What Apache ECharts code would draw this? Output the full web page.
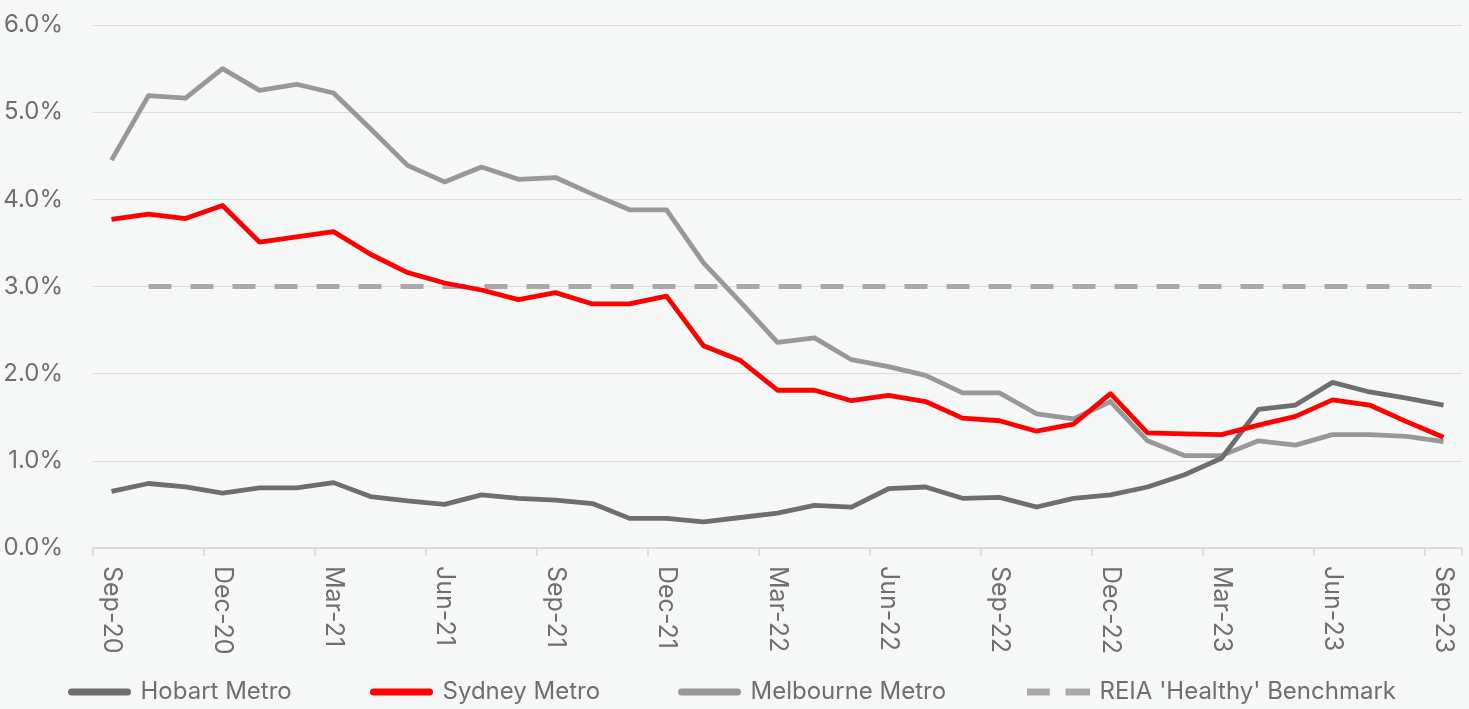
<!DOCTYPE html>
<html>
<head>
<meta charset="utf-8">
<script src="https://cdn.jsdelivr.net/npm/echarts@6/dist/echarts.min.js"></script>
<style>
html,body{margin:0;padding:0;background:#f6f7f7;}
#c{width:1469px;height:709px;}
</style>
</head>
<body>
<div id="c"></div>
<script>
const months = ['Sep-20','Oct-20','Nov-20','Dec-20','Jan-21','Feb-21','Mar-21','Apr-21','May-21','Jun-21','Jul-21','Aug-21',
  'Sep-21','Oct-21','Nov-21','Dec-21','Jan-22','Feb-22','Mar-22','Apr-22','May-22','Jun-22','Jul-22','Aug-22',
  'Sep-22','Oct-22','Nov-22','Dec-22','Jan-23','Feb-23','Mar-23','Apr-23','May-23','Jun-23','Jul-23','Aug-23','Sep-23'];

const hobart = [0.65,0.74,0.70,0.63,0.69,0.69,0.75,0.59,0.54,0.50,0.61,0.57,
  0.55,0.51,0.34,0.34,0.30,0.35,0.40,0.49,0.47,0.68,0.70,0.57,
  0.58,0.47,0.57,0.61,0.70,0.84,1.03,1.59,1.64,1.90,1.79,1.72,1.64];

const sydney = [3.77,3.83,3.78,3.93,3.51,3.57,3.63,3.37,3.16,3.04,2.96,2.85,
  2.93,2.80,2.80,2.89,2.32,2.15,1.81,1.81,1.69,1.75,1.68,1.49,
  1.46,1.34,1.42,1.77,1.32,1.31,1.30,1.41,1.51,1.70,1.64,1.45,1.27];

const melbourne = [4.45,5.19,5.16,5.50,5.25,5.32,5.22,4.81,4.39,4.20,4.37,4.23,
  4.25,4.06,3.88,3.88,3.27,2.82,2.36,2.41,2.16,2.08,1.98,1.78,
  1.78,1.54,1.48,1.68,1.23,1.06,1.06,1.23,1.18,1.30,1.30,1.28,1.22];

const benchmark = [null,3,3,3,3,3,3,3,3,3,3,3,
  3,3,3,3,3,3,3,3,3,3,3,3,
  3,3,3,3,3,3,3,3,3,3,3,3,3];

const yTicks = [0,1,2,3,4,5,6];
const seriesNames = ['Hobart Metro','Sydney Metro','Melbourne Metro',"REIA 'Healthy' Benchmark"];

const FONT = 'Inter';
const TXT = '#6f6f6f';
const SOLID_ICON = 'path://M4,0H68A4,4 0 0 1 68,8H4A4,4 0 0 1 4,0Z';
const DASH_ICON = 'path://M0,0H26V8H0Z M44,0H72V8H44Z';
const legendLeft = [68, 370, 678, 1027];

const legends = seriesNames.map((n, i) => ({
  top: 680,
  left: legendLeft[i],
  itemWidth: 72,
  itemHeight: 7,
  itemGap: 0,
  padding: 0,
  textStyle: {fontFamily: FONT, fontSize: 24, color: TXT},
  data: [{name: n, icon: i === 3 ? DASH_ICON : SOLID_ICON}]
}));

const chart = echarts.init(document.getElementById('c'), null, {renderer:'canvas'});
chart.setOption({
  backgroundColor: '#f6f7f7',
  animation: false,
  textStyle: {fontFamily: FONT, color: TXT},
  grid: {left: 93, right: 7, top: 25, bottom: 161, containLabel: false},
  legend: legends,
  xAxis: {
    type: 'category',
    data: months,
    boundaryGap: true,
    axisLine: {show: true, lineStyle: {color: '#d6d6d6', width: 1.5}},
    axisTick: {show: true, interval: 2, length: 8, lineStyle: {color: '#d6d6d6', width: 1.5}},
    axisLabel: {interval: 2, rotate: -90, margin: 18, fontSize: 25, color: TXT, fontFamily: FONT}
  },
  yAxis: {
    type: 'value',
    min: yTicks[0],
    max: yTicks[yTicks.length - 1],
    interval: 1,
    axisLine: {show: false},
    axisTick: {show: false},
    splitLine: {lineStyle: {color: '#dcdcdc', width: 1}},
    axisLabel: {margin: 30, fontSize: 24, color: TXT, fontFamily: FONT,
      formatter: v => v.toFixed(1) + '%'}
  },
  series: [
    {name: seriesNames[0], type: 'line', data: hobart, symbol: 'none', z: 3,
      lineStyle: {color: '#6e6e6e', width: 4.8, join: 'round'}, itemStyle: {color: '#6e6e6e'}},
    {name: seriesNames[1], type: 'line', data: sydney, symbol: 'none', z: 4,
      lineStyle: {color: '#ff0000', width: 4.8, join: 'round'}, itemStyle: {color: '#ff0000'}},
    {name: seriesNames[2], type: 'line', data: melbourne, symbol: 'none', z: 2,
      lineStyle: {color: '#98989b', width: 4.8, join: 'round'}, itemStyle: {color: '#98989b'}},
    {name: seriesNames[3], type: 'line', data: benchmark, symbol: 'none', z: 1,
      lineStyle: {color: '#a9a9ab', width: 4.8, type: [23, 19]}, itemStyle: {color: '#a9a9ab'}}
  ]
});
</script>
</body>
</html>
